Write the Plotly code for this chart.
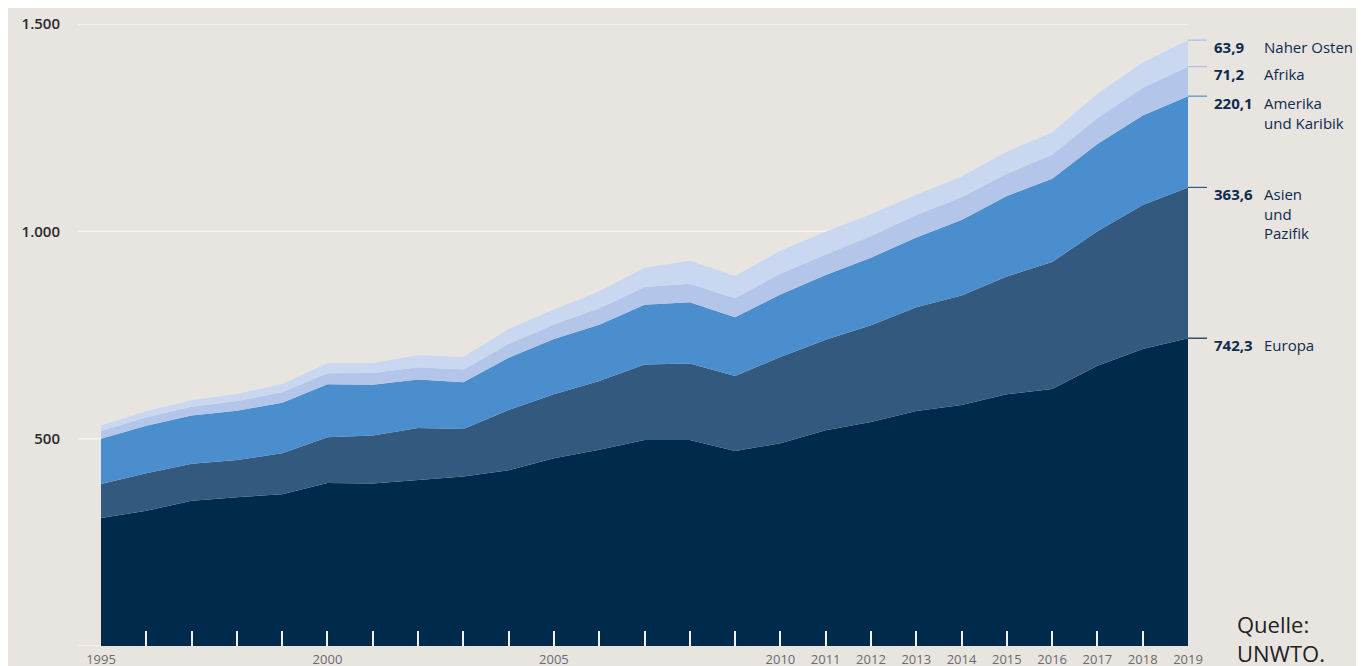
import plotly.graph_objects as go

years = list(range(1995, 2020))
europa = [308.5, 326, 350, 359, 366, 392.9, 392, 401, 409, 424, 453, 473, 497, 497, 470, 489,
          520, 540, 567, 581, 607, 620, 676, 716, 742.3]
asien = [82, 90.4, 89.7, 89.4, 98.7, 110.4, 115.8, 124.9, 114.2, 145.1, 154, 166, 182, 184.1, 181.1,
         208.2, 218.5, 233.8, 249.7, 264.3, 284.1, 306, 324, 347.7, 363.6]
amerika = [109, 114.5, 116.2, 119.2, 122, 128.2, 122.2, 116.7, 113.1, 125.8, 133.3, 135.8, 143.9,
           147.8, 141.7, 150.4, 156, 162.7, 168.2, 181.9, 194.1, 200.9, 210.8, 215.7, 220.1]
afrika = [18.7, 20.5, 21, 23, 25, 26.2, 28.3, 29.5, 30.8, 33.3, 34.8, 39.6, 42.6, 44.4, 45.9, 50.4,
          49.9, 52.4, 54.4, 55, 53.6, 57.6, 62.7, 67.1, 71.2]
naher_osten = [13.7, 15, 15.5, 17, 20, 24.1, 24, 29, 30, 36, 36.3, 40.9, 46.9, 55.6, 53.6, 55.4,
               54.8, 52, 49, 50, 53.3, 53.6, 58, 60.5, 63.9]

series = [
    ("Europa", europa, "#002a4b", "742,3", "Europa"),
    ("Asien und Pazifik", asien, "#33597f", "363,6", "Asien<br>und<br>Pazifik"),
    ("Amerika und Karibik", amerika, "#4b8ecd", "220,1", "Amerika<br>und Karibik"),
    ("Afrika", afrika, "#b3c6e9", "71,2", "Afrika"),
    ("Naher Osten", naher_osten, "#c9d7f0", "63,9", "Naher Osten"),
]

x_labels = {1995: "1995", 2000: "2000", 2005: "2005"}
for y in range(2010, 2020):
    x_labels[y] = str(y)
tick_text = [x_labels.get(y, "") for y in years]

y_ticks = [500, 1000, 1500]
y_ticktext = ["500", "1.000", "1.500"]

FONT = "Open Sans"
BG = "#e8e4e0"
NAVY = "#0d2b4c"

# the page body adds an 8px offset; margins compensate for it
L, R, T, B = 93, 184, 16, 27.5
plot_w = 1364 - L - R
plot_h = 666 - T - B

fig = go.Figure()
for name, vals, color, _, _ in series:
    fig.add_trace(go.Scatter(
        x=years, y=vals, name=name, mode="lines", stackgroup="one",
        line=dict(width=0, color=color), fillcolor=color, hoverinfo="x+y+name",
    ))

shapes = []
for gv in [0] + y_ticks:
    shapes.append(dict(type="line", xref="paper", yref="y", x0=-23 / plot_w, x1=1,
                       y0=gv, y1=gv, line=dict(color="#f7f5f2", width=1.5), layer="below"))

annotations = []
cum = 0
for name, vals, color, valtxt, label in series:
    cum += vals[-1]
    lc = color if name not in ("Afrika", "Naher Osten") else "#a9bde3"
    shapes.append(dict(type="line", xref="paper", yref="y", x0=1, x1=1 + 19 / plot_w,
                       y0=cum, y1=cum, line=dict(color=lc, width=1.2)))
    annotations.append(dict(xref="paper", yref="y", x=1 + 24 / plot_w, y=cum, yshift=5,
                            xanchor="left", yanchor="top", showarrow=False, align="left",
                            text="<b>" + valtxt + "</b>",
                            font=dict(family=FONT, size=15, color=NAVY)))
    annotations.append(dict(xref="paper", yref="y", x=1 + 74 / plot_w, y=cum, yshift=5,
                            xanchor="left", yanchor="top", showarrow=False, align="left",
                            text=label, font=dict(family=FONT, size=15, color=NAVY)))

annotations.append(dict(xref="paper", yref="paper", x=1 + 47 / plot_w, y=-24 / plot_h,
                        xanchor="left", yanchor="bottom", showarrow=False, align="left",
                        text="Quelle:<br>UNWTO.",
                        font=dict(family=FONT, size=22, color="#222222")))

fig.update_layout(
    width=1364, height=666,
    margin=dict(l=L, r=R, t=T, b=B, autoexpand=False),
    paper_bgcolor=BG, plot_bgcolor=BG,
    showlegend=False,
    shapes=shapes, annotations=annotations,
    xaxis=dict(range=[1995, 2019], tickvals=years, ticktext=tick_text,
               ticks="inside", ticklen=15, tickwidth=1.5, tickcolor="#f2f0ee",
               showgrid=False, zeroline=False, showline=False, automargin=False,
               tickfont=dict(family=FONT, size=13, color="#6b6b6b"),
               ticklabelstandoff=4),
    yaxis=dict(range=[0, 1500], tickvals=y_ticks, ticktext=y_ticktext,
               showgrid=False, zeroline=False, showline=False, ticks="", automargin=False,
               tickfont=dict(family=FONT, size=15, color="#2b2b2b", weight=600),
               ticklabelstandoff=40),
)

fig.write_html("out.html")
